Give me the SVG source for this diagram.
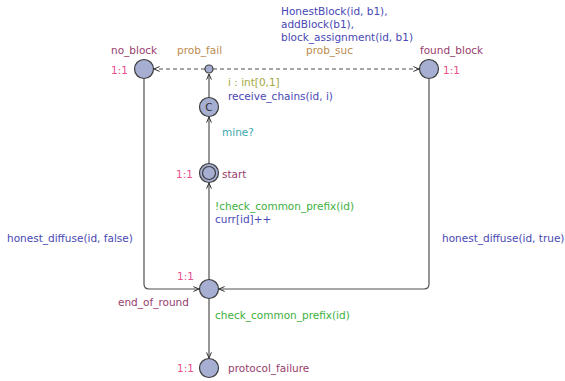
<svg xmlns="http://www.w3.org/2000/svg" width="565" height="381" viewBox="0 0 565 381">
<style>
text{font-family:"DejaVu Sans","Liberation Sans",sans-serif;font-size:10.5px}
.loc{fill:#a6aed2;stroke:#3c3c3c;stroke-width:1.2}
.name{fill:#98406c}
.rate{fill:#e8508c}
.asg{fill:#4848b4}
.prob{fill:#bc8c50}
.sel{fill:#a4a83c}
.sync{fill:#3ca8ac}
.grd{fill:#40b040}
.edge{fill:none;stroke:#505050;stroke-width:1.2}
.dash{stroke-dasharray:4 3}
</style>
<defs>
<marker id="arr" viewBox="0 0 10 10" refX="9" refY="5" markerWidth="7" markerHeight="7" markerUnits="userSpaceOnUse" orient="auto">
<path d="M1,1.5 L9,5 L1,8.5" fill="none" stroke="#303030" stroke-width="1.4"/>
</marker>
</defs>
<g id="connectors">
<path class="edge dash" d="M205,69 L154,69" marker-end="url(#arr)"/>
<path class="edge dash" d="M213,69 L419,69" marker-end="url(#arr)"/>
<path class="edge" d="M209,98 L209,74" marker-end="url(#arr)"/>
<path class="edge" d="M209,164 L209,117" marker-end="url(#arr)"/>
<path class="edge" d="M209,280 L209,183" marker-end="url(#arr)"/>
<path class="edge" d="M144,79 L144,284 Q144,289 149,289 L199,289" marker-end="url(#arr)"/>
<path class="edge" d="M429,79 L429,284 Q429,289 424,289 L219,289" marker-end="url(#arr)"/>
<path class="edge" d="M209,299 L209,358" marker-end="url(#arr)"/>
<text class="asg" x="281" y="15">HonestBlock(id, b1),</text>
<text class="asg" x="281" y="28">addBlock(b1),</text>
<text class="asg" x="281" y="41">block_assignment(id, b1)</text>
<text class="prob" x="177" y="54">prob_fail</text>
<text class="prob" x="306" y="54">prob_suc</text>
<text class="sel" x="228" y="86">i : int[0,1]</text>
<text class="asg" x="228" y="100">receive_chains(id, i)</text>
<text class="sync" x="222" y="136">mine?</text>
<text class="grd" x="215" y="210">!check_common_prefix(id)</text>
<text class="asg" x="215" y="223">curr[id]++</text>
<text class="asg" x="7" y="242">honest_diffuse(id, false)</text>
<text class="asg" x="442" y="242">honest_diffuse(id, true)</text>
<text class="grd" x="215" y="319">check_common_prefix(id)</text>
</g>
<g id="no_block">
<circle class="loc" cx="144" cy="69" r="9.5"/>
<text class="name" x="111" y="54">no_block</text>
<text class="rate" x="111" y="74">1:1</text>
</g>
<g id="branch">
<circle class="loc" cx="209" cy="69" r="4"/>
</g>
<g id="found_block">
<circle class="loc" cx="429" cy="69" r="9.5"/>
<text class="name" x="420" y="54">found_block</text>
<text class="rate" x="443" y="74">1:1</text>
</g>
<g id="committed">
<circle class="loc" cx="209" cy="107" r="9.5"/>
<text x="209" y="111" text-anchor="middle" fill="#303030" font-size="10.5">C</text>
</g>
<g id="start">
<circle class="loc" cx="209" cy="173" r="9.5"/>
<circle class="loc" cx="209" cy="173" r="6.5"/>
<text class="rate" x="176" y="178">1:1</text>
<text class="name" x="222" y="178">start</text>
</g>
<g id="end_of_round">
<circle class="loc" cx="209" cy="289" r="9.5"/>
<text class="rate" x="177" y="280">1:1</text>
<text class="name" x="118" y="306">end_of_round</text>
</g>
<g id="protocol_failure">
<circle class="loc" cx="209" cy="368" r="9.5"/>
<text class="rate" x="177" y="372">1:1</text>
<text class="name" x="228" y="372">protocol_failure</text>
</g>
</svg>
